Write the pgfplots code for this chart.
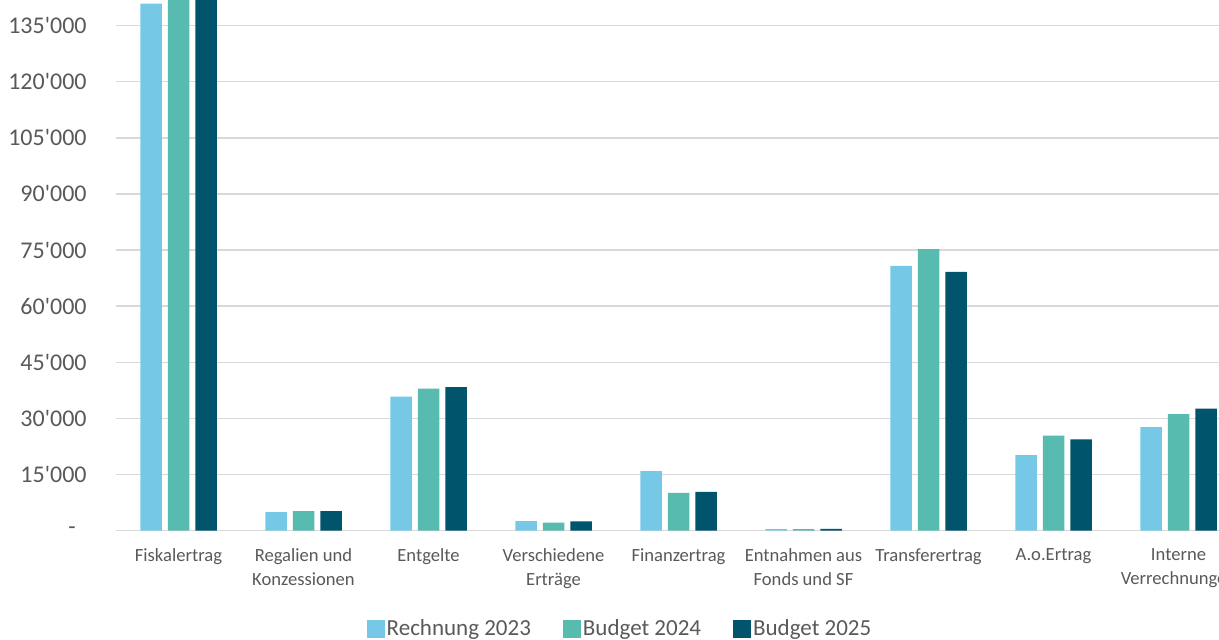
\documentclass[border=0pt]{standalone}
\usepackage{fontspec}
\setmainfont{Carlito}
\usepackage{pgfplots}
\pgfplotsset{compat=1.18}
\definecolor{cA}{RGB}{117,201,231}
\definecolor{cB}{RGB}{88,187,176}
\definecolor{cC}{RGB}{0,84,108}
\definecolor{txt}{RGB}{89,89,89}
\definecolor{grd}{RGB}{217,217,217}
\newcommand{\q}{\textquotesingle}
\pgfplotsset{sqlegend/.style={legend image code/.code={\fill[##1] (0pt,-4.5pt) rectangle (9pt,4.5pt);}}}
\begin{document}
\begin{tikzpicture}
\begin{axis}[
  scale only axis, width=562.5pt, height=265.25pt,
  xmin=-0.5, xmax=8.5, ymin=0, ymax=141845,
  ybar=3pt, bar width=10.75pt,
  axis line style={draw=none},
  ymajorgrids, grid style={grd, line width=0.7pt},
  major tick length=0pt,
  ytick={0,15000,30000,45000,60000,75000,90000,105000,120000,135000},
  yticklabels={-\kern5.5pt, 15\q000, 30\q000, 45\q000, 60\q000, 75\q000, 90\q000, 105\q000, 120\q000, 135\q000},
  yticklabel style={font=\fontsize{12}{14}\selectfont, text=txt, anchor=east, inner sep=0pt, xshift=-14.5pt},
  xtick={0,1,2,3,4,5,6,7,8},
  xticklabels={Fiskalertrag, {Regalien und\\Konzessionen}, Entgelte, {Verschiedene\\Erträge}, Finanzertrag, {Entnahmen aus\\Fonds und SF}, Transferertrag, A.o.Ertrag, {Interne\\Verrechnungen}},
  xticklabel style={font=\fontsize{9.3}{11.7}\selectfont, text=txt, align=center, anchor=north, inner sep=0pt, yshift=-9pt},
  legend columns=3,
  legend style={at={(0.448,-0.185)}, anchor=center, draw=none, fill=none,
    font=\fontsize{11.5}{13}\selectfont, text=txt,
    nodes={inner sep=1pt},
    /tikz/every even column/.append style={column sep=15pt}},
  legend cell align=left,
]
\addplot[fill=cA, draw=none, sqlegend] coordinates {(0,140900) (1,4900) (2,35830) (3,2490) (4,15860) (5,350) (6,70780) (7,20130) (8,27620)};
\addplot[fill=cB, draw=none, sqlegend] coordinates {(0,145000) (1,5160) (2,37970) (3,2140) (4,10080) (5,380) (6,75220) (7,25350) (8,31100)};
\addplot[fill=cC, draw=none, sqlegend] coordinates {(0,147000) (1,5160) (2,38320) (3,2410) (4,10350) (5,450) (6,69180) (7,24380) (8,32620)};
\legend{Rechnung 2023, Budget 2024, Budget 2025}
\end{axis}
\pgfresetboundingbox
\path[use as bounding box] (-58pt,-54.25pt) rectangle (551.5pt,265.25pt);
\end{tikzpicture}
\end{document}
